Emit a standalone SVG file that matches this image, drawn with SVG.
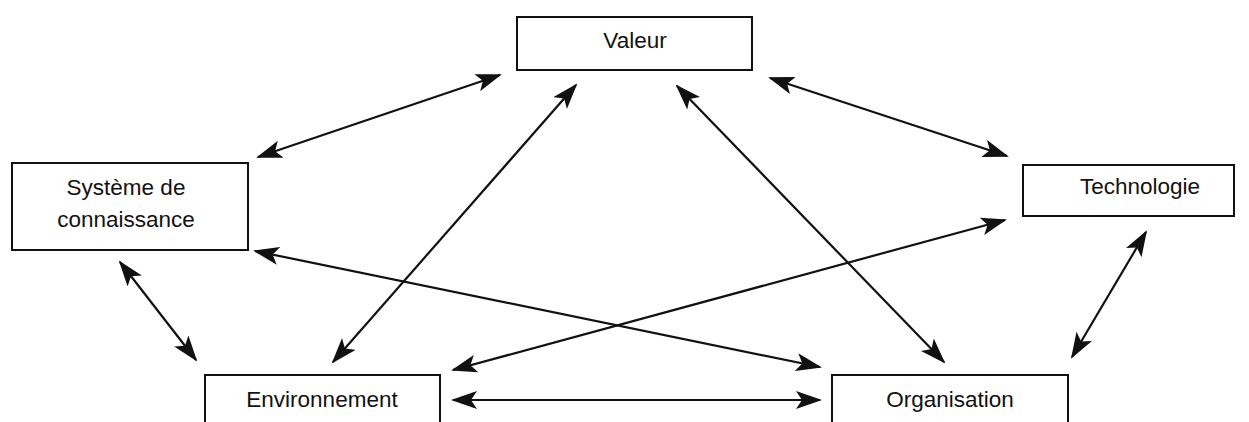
<svg xmlns="http://www.w3.org/2000/svg" width="1249" height="422" viewBox="0 0 1249 422">
<style>
.box{fill:#fff;stroke:#111;stroke-width:2}
.lbl{font-family:"Liberation Sans",Arial,sans-serif;font-size:22.5px;fill:#111;text-anchor:middle}
.c{stroke:#111;stroke-width:2.2;fill:none;marker-start:url(#ah);marker-end:url(#ah)}
</style>
<defs>
<marker id="ah" viewBox="0 0 26 18" refX="24" refY="9" markerWidth="26" markerHeight="18" markerUnits="userSpaceOnUse" orient="auto-start-reverse">
<path d="M0,0 L26,9 L0,18 L6,9 Z" fill="#111"/>
</marker>
</defs>
<rect width="1249" height="422" fill="#fff"/>
<g id="connectors">
<line class="c" x1="258" y1="157" x2="500" y2="75"/>
<line class="c" x1="333" y1="362" x2="576" y2="85"/>
<line class="c" x1="677" y1="86" x2="944" y2="362"/>
<line class="c" x1="770" y1="78" x2="1007" y2="156"/>
<line class="c" x1="255" y1="251" x2="820" y2="367"/>
<line class="c" x1="453" y1="370" x2="1005" y2="220"/>
<line class="c" x1="120" y1="262" x2="196" y2="360"/>
<line class="c" x1="1146" y1="232" x2="1072" y2="357"/>
<line class="c" x1="453" y1="400" x2="820" y2="400"/>
</g>
<g id="valeur">
<rect class="box" x="517" y="17" width="235" height="53"/>
<text class="lbl" x="635" y="48">Valeur</text>
</g>
<g id="systeme">
<rect class="box" x="12" y="163" width="236" height="87"/>
<text class="lbl" x="126" y="195">Système de</text>
<text class="lbl" x="126" y="227">connaissance</text>
</g>
<g id="technologie">
<rect class="box" x="1023" y="165" width="211" height="51"/>
<text class="lbl" x="1140" y="194">Technologie</text>
</g>
<g id="environnement">
<rect class="box" x="205" y="375" width="235" height="60"/>
<text class="lbl" x="322" y="407">Environnement</text>
</g>
<g id="organisation">
<rect class="box" x="832" y="375" width="236" height="60"/>
<text class="lbl" x="950" y="407">Organisation</text>
</g>
</svg>
